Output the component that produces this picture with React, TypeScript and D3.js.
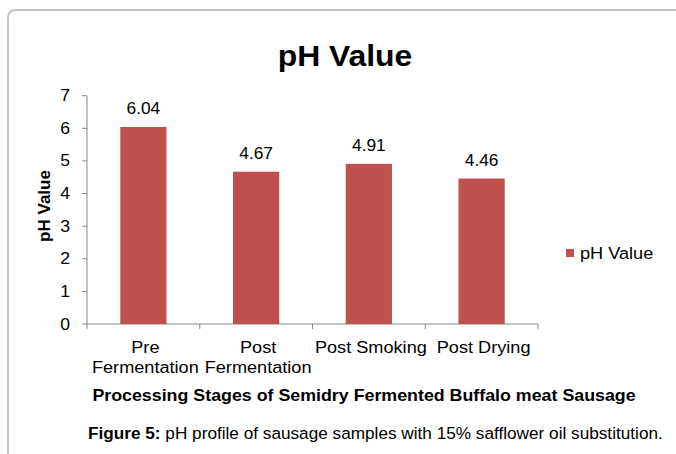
import React from "react";
import * as d3 from "d3";

const categories: string[][] = [["Pre", "Fermentation"], ["Post", "Fermentation"], ["Post Smoking"], ["Post Drying"]];
const values: number[] = [6.04, 4.67, 4.91, 4.46];
const yTicks: number[] = [0, 1, 2, 3, 4, 5, 6, 7];
const seriesName = "pH Value";
const chartTitle = "pH Value";
const yTitle = "pH Value";
const xTitle = "Processing Stages of Semidry Fermented Buffalo meat Sausage";
const captionBold = "Figure 5:";
const captionText = " pH profile of sausage samples with 15% safflower oil substitution.";

const W = 676, H = 454;
const BAR = "#C0504D";
const FONT = "Arial, 'Liberation Sans', sans-serif";
const SX = 1.1;

function T(props: { x: number; y: number; size: number; anchor?: string; bold?: boolean; sx?: number; children: React.ReactNode }) {
  const { x, y, size, anchor = "start", bold = false, sx = SX, children } = props;
  return (
    <text transform={`translate(${x},${y}) scale(${sx},1)`} textAnchor={anchor} fontSize={size} fontWeight={bold ? "bold" : "normal"}>
      {children}
    </text>
  );
}

export default function App() {
  const keys = categories.map((c) => c.join(" "));
  const x = d3.scaleBand<string>().domain(keys).range([87, 538]).paddingInner(0.59).paddingOuter(0.295);
  const xs = d3.scaleBand<string>().domain(keys).range([87, 538]).padding(0);
  const y = d3.scaleLinear().domain([0, 7]).range([324, 95.7]);
  const y0 = y(0);
  return (
    <svg width={W} height={H} style={{ position: "absolute", left: 0, top: 0, background: "#fff" }} fontFamily={FONT}>
      <rect x={0} y={0} width={W} height={H} fill="#fff" />
      <path d={`M8,${H + 10} L8,18 Q8,10 16,10 L${W + 10},10`} fill="none" stroke="#c4c4c4" strokeWidth={2} />
      <T x={345} y={66} size={29} anchor="middle" bold>{chartTitle}</T>
      {/* y axis */}
      <line x1={87} x2={87} y1={y(7)} y2={y0} stroke="#868686" strokeWidth={1} />
      {yTicks.map((t) => (
        <g key={t}>
          <line x1={82} x2={87} y1={y(t)} y2={y(t)} stroke="#868686" />
          <T x={70} y={y(t) + 5.5} size={16} anchor="end">{t}</T>
        </g>
      ))}
      {/* x axis */}
      <line x1={87} x2={538} y1={y0} y2={y0} stroke="#868686" />
      {keys.map((k) => (
        <line key={k} x1={xs(k)!} x2={xs(k)!} y1={y0} y2={y0 + 5} stroke="#868686" />
      ))}
      <line x1={538} x2={538} y1={y0} y2={y0 + 5} stroke="#868686" />
      {keys.map((k, i) => (
        <g key={k}>
          <rect x={x(k)!} y={y(values[i])} width={x.bandwidth()} height={y0 - y(values[i])} fill={BAR} />
          <T x={x(k)! + x.bandwidth() / 2} y={y(values[i]) - 13} size={15.8} anchor="middle">{values[i].toFixed(2)}</T>
          {categories[i].map((line, j) => (
            <T key={j} x={xs(k)! + xs.bandwidth() / 2 + 2} y={353 + j * 20} size={16.5} anchor="middle">{line}</T>
          ))}
        </g>
      ))}
      <text transform={`translate(50,206) rotate(-90)`} textAnchor="middle" fontSize={17} fontWeight="bold">{yTitle}</text>
      <T x={364} y={401} size={16.2} anchor="middle" bold>{xTitle}</T>
      {/* legend */}
      <rect x={566} y={249} width={8} height={8} fill={BAR} />
      <T x={580} y={259} size={16.5}>{seriesName}</T>
      {/* caption */}
      <text x={88} y={439} fontSize={17.2}>
        <tspan fontWeight="bold">{captionBold}</tspan>
        <tspan>{captionText}</tspan>
      </text>
    </svg>
  );
}
